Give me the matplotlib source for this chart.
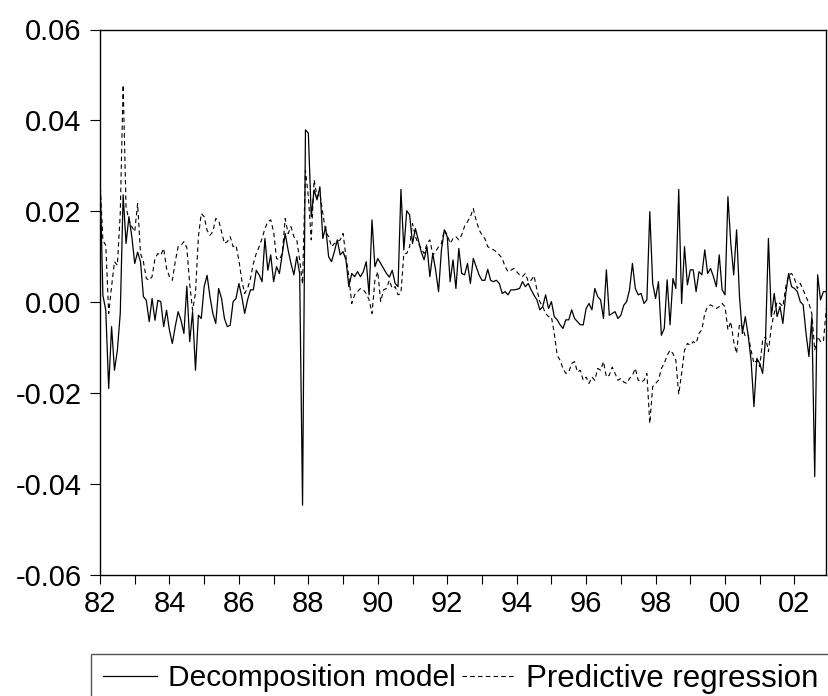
import numpy as np
import matplotlib
matplotlib.use("Agg")
import matplotlib.pyplot as plt
from matplotlib.lines import Line2D
from matplotlib.patches import Rectangle

plt.rcParams['font.family'] = ['Liberation Sans', 'DejaVu Sans']
plt.rcParams['axes.unicode_minus'] = False

# monthly observations, 1982M01 - 2002M12
start_year = 1982
n_obs = 252

decomposition = [
    0.028, 0.0015, -0.0018, -0.019, -0.0054, -0.015, -0.0106, -0.0025, 0.0236, 0.0129,
    0.0188, 0.0144, 0.0085, 0.011, 0.0089, 0.0012, 0.0004, -0.0043, 0.0008, -0.004,
    0.0004, 0.0001, -0.0054, -0.0018, -0.0062, -0.0091, -0.0054, -0.0021, -0.004, -0.0069,
    0.0035, -0.0087, -0.0021, -0.015, -0.0029, -0.0036, 0.0034, 0.0059, 0.0012, -0.0025,
    -0.0047, 0.003, 0.0008, -0.0036, -0.0054, -0.0051, 0.0001, 0.0008, 0.0041, 0.0012,
    -0.0025, 0.0005, 0.0027, 0.0027, 0.007, 0.006, 0.0045, 0.014, 0.007, 0.0104,
    0.0045, 0.0078, 0.0063, 0.0107, 0.0151, 0.0115, 0.0085, 0.006, 0.01, 0.0063,
    -0.0447, 0.0379, 0.0372, 0.0188, 0.0247, 0.0225, 0.0254, 0.014, 0.0166, 0.01,
    0.0089, 0.0111, 0.0137, 0.0104, 0.0111, 0.0093, 0.0034, 0.0063, 0.0056, 0.0067,
    0.0056, 0.0067, 0.0089, 0.0016, 0.0181, 0.0078, 0.0096, 0.0085, 0.0074, 0.0063,
    0.0055, 0.007, 0.0041, 0.0034, 0.0248, 0.0115, 0.0201, 0.0192, 0.0129, 0.0162,
    0.0137, 0.0111, 0.0093, 0.0122, 0.0056, 0.0107, 0.007, 0.0023, 0.0115, 0.0159,
    0.0144, 0.0045, 0.0093, 0.003, 0.0118, 0.0063, 0.006, 0.0085, 0.0041, 0.0096,
    0.0078, 0.006, 0.0048, 0.0048, 0.0072, 0.0048, 0.0045, 0.0048, 0.0041, 0.0019,
    0.0023, 0.0016, 0.0027, 0.0027, 0.0028, 0.003, 0.0045, 0.0034, 0.0041, 0.0027,
    0.0015, 0.0005, -0.0017, -0.001, 0.0016, -0.0014, 0.0001, -0.0032, -0.0039, -0.005,
    -0.0058, -0.0039, -0.0039, -0.0017, -0.0036, -0.0043, -0.005, -0.005, -0.0014, -0.0003,
    -0.0017, 0.003, 0.0012, 0.0005, -0.0036, 0.0071, -0.0029, -0.0025, -0.0021, -0.0036,
    -0.0029, -0.0007, 0.0001, 0.0027, 0.0085, 0.003, 0.0016, 0.0019, -0.0003, 0.0005,
    0.0199, 0.0041, 0.0008, 0.0045, -0.0073, -0.0058, 0.0049, -0.005, 0.0052, 0.003,
    0.0248, -0.0003, 0.0122, 0.0038, 0.0071, 0.0071, 0.0023, 0.0067, 0.006, 0.0115,
    0.0063, 0.0074, 0.0056, 0.0034, 0.0104, 0.0027, 0.0016, 0.0232, 0.0129, 0.006,
    0.0159, 0.0012, -0.0069, -0.0032, -0.0073, -0.0128, -0.023, -0.0124, -0.0135, -0.0157,
    -0.008, 0.014, -0.0032, 0.0019, -0.0032, -0.001, -0.0047, 0.0019, 0.0063, 0.0034,
    0.003, 0.0023, 0.0001, -0.0006, -0.0069, -0.012, -0.0032, -0.0384, 0.006, 0.0005,
    0.0023, 0.0023,
]

predictive = [
    0.0269, 0.0136, 0.0125, -0.0025, 0.0034, 0.0089, 0.0081, 0.0195, 0.0478, 0.021,
    0.018, 0.0166, 0.0155, 0.0217, 0.0107, 0.0089, 0.0052, 0.0048, 0.0056, 0.0096,
    0.0107, 0.0103, 0.0118, 0.0074, 0.0056, 0.0048, 0.0089, 0.0122, 0.0125, 0.0133,
    0.012, 0.004, -0.0018, 0.002, 0.0144, 0.0195, 0.0188, 0.0158, 0.0147, 0.0155,
    0.0184, 0.018, 0.0155, 0.0129, 0.0133, 0.0144, 0.0122, 0.0125, 0.0092, 0.0048,
    0.0019, 0.003, 0.0052, 0.0085, 0.0107, 0.0122, 0.014, 0.0162, 0.0177, 0.0181,
    0.0155, 0.0096, 0.0093, 0.0107, 0.0184, 0.0151, 0.0166, 0.0144, 0.0137, 0.0093,
    0.004, 0.029, 0.0232, 0.0137, 0.0269, 0.0232, 0.024, 0.0195, 0.0155, 0.0144,
    0.0122, 0.0129, 0.0133, 0.0137, 0.0151, 0.01, 0.0056, -0.0003, 0.0016, 0.0023,
    0.003, 0.0027, 0.0019, 0.0005, -0.0025, 0.0048, 0.0067, 0.0001, 0.0027, 0.003,
    0.0048, 0.003, 0.0034, 0.0016, 0.0019, 0.0107, 0.0107, 0.0122, 0.0173, 0.0144,
    0.0129, 0.0118, 0.0107, 0.0129, 0.0137, 0.0104, 0.0111, 0.0122, 0.0129, 0.0159,
    0.0148, 0.0129, 0.014, 0.0144, 0.0137, 0.0148, 0.0167, 0.0177, 0.0188, 0.0206,
    0.018, 0.0159, 0.0148, 0.014, 0.0122, 0.0118, 0.0115, 0.0111, 0.0104, 0.0096,
    0.0078, 0.0067, 0.007, 0.0074, 0.0067, 0.006, 0.0056, 0.0063, 0.0045, 0.0048,
    0.0058, 0.0027, 0.0001, -0.001, -0.0025, -0.0032, -0.0032, -0.0069, -0.0117, -0.0128,
    -0.0146, -0.0157, -0.0154, -0.0135, -0.0131, -0.0154, -0.015, -0.0172, -0.0165, -0.0179,
    -0.0165, -0.0172, -0.0146, -0.015, -0.0131, -0.0165, -0.0161, -0.0143, -0.0157, -0.0172,
    -0.0168, -0.0176, -0.0179, -0.0168, -0.0161, -0.0146, -0.0172, -0.0176, -0.0172, -0.0157,
    -0.0267, -0.0186, -0.0179, -0.0172, -0.0146, -0.0135, -0.0117, -0.0106, -0.0113, -0.0128,
    -0.0203, -0.0157, -0.0106, -0.0091, -0.0095, -0.0087, -0.0091, -0.0069, -0.0061, -0.0025,
    -0.001, -0.0006, -0.001, -0.0014, -0.001, -0.0003, -0.001, -0.0061, -0.0043, -0.0087,
    -0.0113, -0.0047, -0.0054, -0.0076, -0.0073, -0.0106, -0.0135, -0.0128, -0.0142, -0.0084,
    -0.0076, -0.0109, -0.0054, -0.0025, 0.0001, -0.0003, -0.001, 0.0034, 0.006, 0.0063,
    0.0052, 0.003, 0.0041, 0.0027, 0.0012, -0.0003, -0.0025, -0.0106, -0.0076, -0.0087,
    -0.0087, -0.0014,
]

year_ticks = list(range(1982, 2003))
year_labels = ['%02d' % (y % 100) if y % 2 == 0 else '' for y in year_ticks]
y_ticks = [-0.06, -0.04, -0.02, 0.00, 0.02, 0.04, 0.06]
y_labels = ['-0.06', '-0.04', '-0.02', '0.00', '0.02', '0.04', '0.06']

t = start_year + np.arange(n_obs) / 12.0

W, H = 829, 696
fig = plt.figure(figsize=(W / 100, H / 100), dpi=100)
ax = fig.add_axes([100 / W, 1 - 574.7 / H, (826.3 - 100) / W, (574.7 - 29.5) / H])

ax.plot(t, decomposition, color='black', lw=0.9)
ax.plot(t, predictive, color='black', lw=0.8, ls=(0, (4, 3)))

ax.set_xlim(t[0], t[-1])
ax.set_ylim(-0.06, 0.06)
ax.set_xticks(year_ticks)
ax.set_xticklabels(year_labels)
ax.set_yticks(y_ticks)
ax.set_yticklabels(y_labels)
ax.tick_params(axis='x', direction='out', length=6.3, width=0.8, pad=4.5, labelsize=21)
ax.tick_params(axis='y', direction='out', length=7.2, width=0.8, pad=6, labelsize=21)
for s in ax.spines.values():
    s.set_linewidth(1.0)
    s.set_color('black')

# legend box (runs off the bottom/right edge like the original)
fig.patches.append(Rectangle((91 / W, -0.1), 1.0, (1 - 654 / H) + 0.1,
                             transform=fig.transFigure, fill=False,
                             edgecolor='#555555', lw=1.0))
ly = 1 - 676 / H
fig.lines.append(Line2D([103 / W, 157 / W], [ly, ly], transform=fig.transFigure,
                        color='black', lw=0.9))
fig.text(168 / W, 1 - 686.5 / H, 'Decomposition model', fontsize=21.5, va='baseline')
fig.lines.append(Line2D([462 / W, 514 / W], [ly, ly], transform=fig.transFigure,
                        color='black', lw=0.8, ls=(0, (4, 3))))
fig.text(526 / W, 1 - 686.5 / H, 'Predictive regression', fontsize=22.5, va='baseline')

fig.savefig('out.png', dpi=100)
